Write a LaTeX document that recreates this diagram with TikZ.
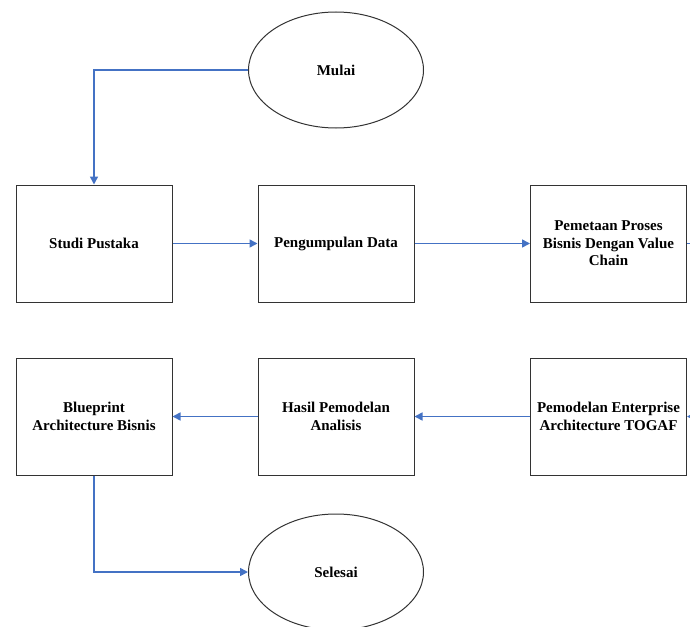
\documentclass[tikz,border=0pt]{standalone}
\usepackage{fontspec}
\setmainfont{Liberation Serif}
\usepackage{tikz}
\usetikzlibrary{arrows.meta}
\usetikzlibrary{shapes,positioning}
\definecolor{flowblue}{RGB}{68,114,196}
\tikzset{
	box/.style={draw=black!80,line width=1pt,minimum width=156pt,minimum height=117pt,align=center,inner sep=2pt,font=\fontsize{15}{17.5}\selectfont\bfseries},
	oval/.style={ellipse,draw=black!80,line width=1pt,minimum width=175pt,minimum height=116pt,inner sep=0pt,font=\fontsize{15}{17.5}\selectfont\bfseries},
	flow/.style={draw=flowblue,line width=1.6pt,-{Triangle[length=8pt,width=8pt]}}
}
\begin{document}
\begin{tikzpicture}[x=1pt,y=-1pt]
			\clip (0,0) rectangle (690,626);
			\begin{scope}
				\node[oval] (mulai) at (336,70) {Mulai};
				\node[box] (studi) at (94,243.5) {Studi Pustaka};
				\node[box] (kumpul) at (336,243.5) {Pengumpulan Data};
				\node[box] (petaan) at (608.5,243.5) {Pemetaan Proses\\Bisnis Dengan Value\\Chain};
				\node[box] (togaf) at (608.5,416.5) {Pemodelan Enterprise\\Architecture TOGAF};
				\node[box] (hasil) at (336,416.5) {Hasil Pemodelan\\Analisis};
				\node[box] (blueprint) at (94,416.5) {Blueprint\\Architecture Bisnis};
				\node[oval] (selesai) at (336,572) {Selesai};
				\coordinate (belok) at (712,330);
			\end{scope}
			\draw[flow] (mulai.west) -| (studi.north);
			\draw[flow] (studi) -- (kumpul);
			\draw[flow] (kumpul) -- (petaan);
			\draw[flow] (petaan.east) -| (belok) |- (togaf.east);
			\draw[flow] (togaf) -- (hasil);
			\draw[flow] (hasil) -- (blueprint);
			\draw[flow] (blueprint.south) |- (selesai.west);
		\end{tikzpicture}
\end{document}
